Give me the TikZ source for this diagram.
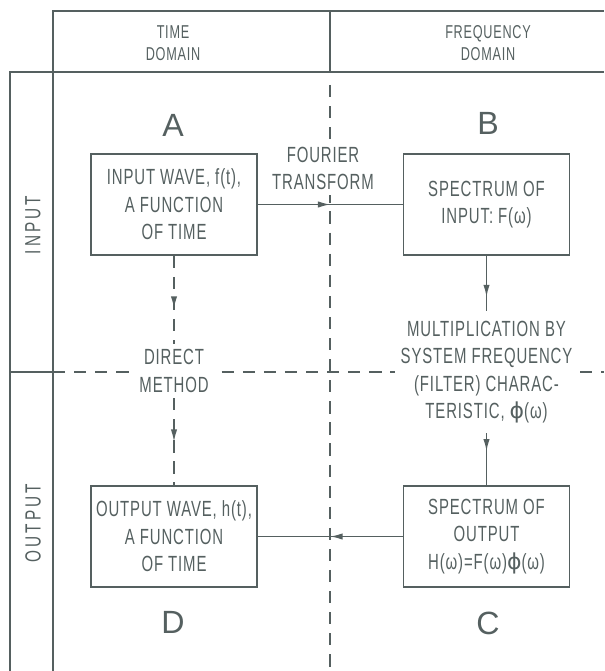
\documentclass[tikz,border=0pt]{standalone}
\usepackage{fontspec}
\setmainfont{Liberation Sans}[FakeStretch=0.68,LetterSpace=4]
\newfontfamily\letterfont{Liberation Sans}
\newfontfamily\sidefont{Liberation Sans}[FakeStretch=0.7,LetterSpace=14]
\newfontfamily\phifont{DejaVu Sans}
\usetikzlibrary{positioning,arrows.meta,decorations.markings}
\definecolor{inkgray}{HTML}{556060}
\newcommand{\phisym}{{\phifont ϕ}}

\begin{document}
\begin{tikzpicture}[
    x=0.02cm, y=-0.02cm,
    % --- Node styles ---
    block/.style={
      rectangle, draw=inkgray, line width=0.8pt,
      minimum width=3.32cm, minimum height=2.02cm,
      font=\fontsize{12.5}{15.6}\selectfont,
      align=center, inner sep=0pt, text=inkgray,
    },
    note/.style={
      fill=white, align=center, inner sep=3pt,
      font=\fontsize{12.5}{15.6}\selectfont, text=inkgray,
    },
    head/.style={align=center, font=\fontsize{10.6}{12.5}\selectfont, text=inkgray},
    corner/.style={font=\letterfont\fontsize{18.3}{20}\selectfont, text=inkgray},
    side/.style={rotate=90, font=\sidefont\fontsize{12.5}{14}\selectfont, text=inkgray},
    % --- Line styles ---
    frame/.style={draw=inkgray, line width=0.8pt},
    divider/.style={frame, dash pattern=on 7pt off 5pt},
    flow/.style={frame, postaction={decorate},
      decoration={markings, mark=at position #1 with {\arrow{Latex[length=7pt,width=3.6pt]}}}},
    dashflow/.style={flow=#1, dash pattern=on 7pt off 5pt},
  ]
    \useasboundingbox (0,0) rectangle (604,671);

    % ===================== FRAME =====================
    \draw[frame] (53,671) -- (53,11) -- (604,11);
    \draw[frame] (10,671) -- (10,72) -- (604,72);
    \draw[frame] (330,11) -- (330,72);
    \draw[frame] (10,372) -- (53,372);
    \draw[divider] (53,372) -- (604,372);
    \draw[divider] (330,85) -- (330,671);

    % ===================== HEADINGS =====================
    \node[head] (time) at (173,43) {TIME\\DOMAIN};
    \node[head] (freq) at (488,43) {FREQUENCY\\DOMAIN};
    \node[side] (inp)  at (33,225) {INPUT};
    \node[side] (outp) at (33,523) {OUTPUT};

    % ===================== QUADRANT LETTERS =====================
    \node[corner] (la) at (173,125) {A};
    \node[corner] (lb) at (488,123) {B};
    \node[corner] (lc) at (488,623) {C};
    \node[corner] (ld) at (173,622) {D};

    % ===================== BLOCKS =====================
    \node[block] (wavein)  at (174,204.5)   {INPUT WAVE, f(t),\\A FUNCTION\\OF TIME};
    \node[block] (specin)  at (486.5,204.5) {SPECTRUM OF\\INPUT: F(ω)};
    \node[block] (waveout) at (174,536.5)   {OUTPUT WAVE, h(t),\\A FUNCTION\\OF TIME};
    \node[block] (specout) at (486.5,536.5) {SPECTRUM OF\\OUTPUT\\H(ω)=F(ω)\phisym(ω)};

    % ===================== STEP LABELS =====================
    \node[note] (fourier) at (323,168.5) {FOURIER\\TRANSFORM};
    \node[note] (direct)  at (174,371)   {DIRECT\\METHOD};
    \node[note, inner ysep=5.5pt] (mult) at (486.5,372)
      {MULTIPLICATION BY\\SYSTEM FREQUENCY\\(FILTER) CHARAC-\\TERISTIC, \phisym(ω)};

    % ===================== ARROWS =====================
    \draw[flow=0.5]  (wavein) -- (specin);
    \draw[flow=0.75] (specin) -- (mult);
    \draw[flow=0.35] (mult) -- (specout);
    \draw[flow=0.5]  (specout) -- (waveout);

    % direct path, dashed
    \draw[dashflow=0.6] (wavein) -- (direct);
    \draw[dashflow=0.5] (direct) -- (waveout);

  \end{tikzpicture}
\end{document}
